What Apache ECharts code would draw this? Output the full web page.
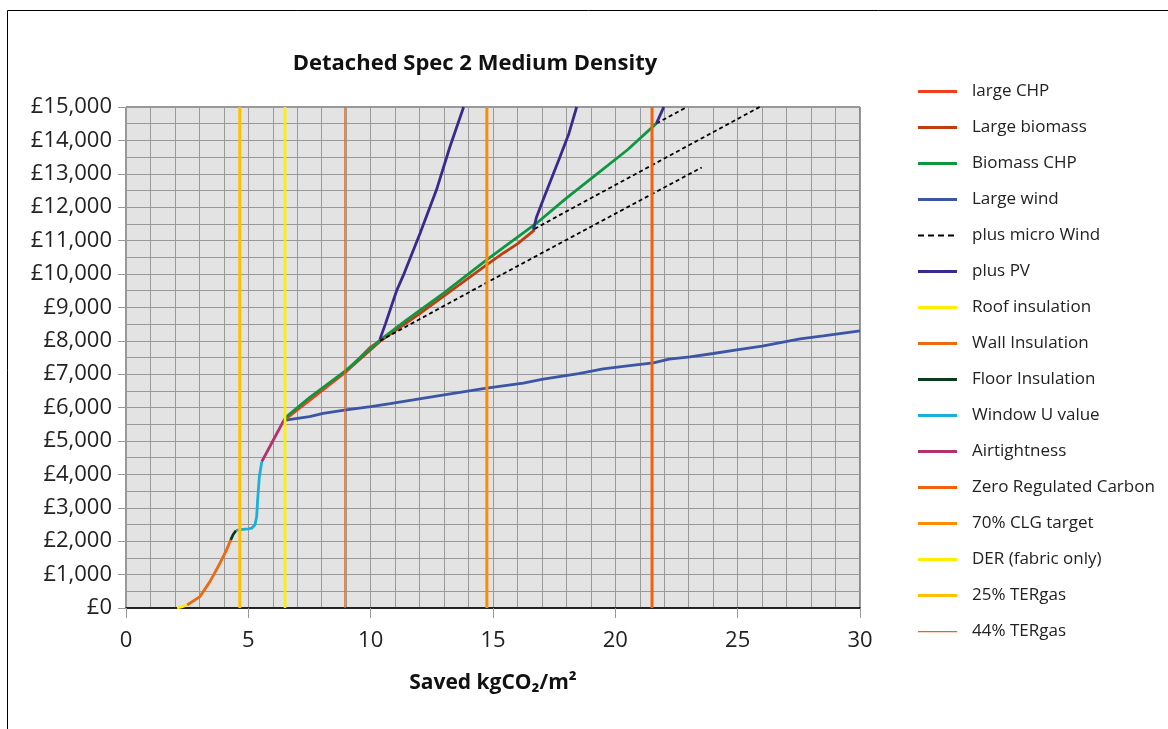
<!DOCTYPE html>
<html>
<head>
<meta charset="utf-8">
<script src="https://cdn.jsdelivr.net/npm/echarts@6/dist/echarts.min.js"></script>
<style>
html,body{margin:0;padding:0;background:#fff;}
#chart{width:1168px;height:729px;}
</style>
</head>
<body>
<div id="chart"></div>
<script>
// ---- data (x = saved kgCO2/m2, y = cost £) ----
const roofInsulation = [[2.09,0],[2.3,40],[2.5,90]];
const wallInsulation = [[2.5,90],[3.02,340],[3.43,790],[3.84,1340],[4.11,1740],[4.28,2040]];
const floorInsulation = [[4.28,2040],[4.38,2200],[4.5,2320]];
const windowUValue = [[4.5,2320],[4.6,2340],[5.0,2370],[5.14,2390],[5.27,2490],[5.34,2730],[5.38,3230],[5.45,3930],[5.55,4380]];
const airtightness = [[5.55,4380],[6.0,5000],[6.45,5620]];
const largeWind = [[6.45,5620],[7.5,5730],[8.06,5830],[9,5930],[10,6030],[10.8,6120],[11.74,6230],[13,6380],[14.74,6580],[16.24,6730],[17.05,6850],[18.5,7020],[19.5,7160],[20.5,7250],[21.55,7340],[22.2,7450],[23.05,7520],[24,7620],[24.96,7730],[26,7840],[27.55,8060],[28.5,8150],[30,8300]];
const largeBiomass = [[6.45,5620],[7.5,6250],[9.02,7100],[10.38,7980],[12.02,8820],[14.74,10270],[15.43,10630],[16.0,10900],[16.7,11320]];
const largeCHP = [[6.45,5620],[8,6500],[9.0,7080],[9.97,7800],[10.38,8000]];
const biomassCHP = [[6.45,5620],[6.6,5750],[7.5,6300],[9.02,7130],[10.38,8020],[11.5,8640],[12.97,9420],[14.74,10420],[16.78,11520],[18,12270],[19.1,12910],[20.5,13720],[21.68,14510]];
const microWindA = [[10.38,8000],[14.74,9740],[17.74,10920],[23.53,13190]];
const microWindB = [[16.7,11350],[17.74,11770],[21.5,13260],[25.9,15000]];
const microWindC = [[21.68,14510],[22.93,15000]];
const pvA = [[10.38,8050],[10.6,8500],[11.06,9500],[11.33,9950],[12.02,11220],[12.69,12520],[13.24,13810],[13.8,15000]];
const pvB = [[16.65,11320],[16.78,11710],[17.05,12220],[17.74,13510],[18.1,14200],[18.42,15000]];
const pvC = [[21.68,14510],[21.98,15000]];
// vertical targets (x positions)
const zeroRegulatedCarbonX = 21.5;
const clgTargetX = 14.75;
const derFabricX = 6.5;
const ter25X = 4.65;
const ter44X = 8.95;
// axes
const xMin = 0, xMax = 30, xStep = 5;
const yMin = 0, yMax = 15000, yStep = 1000;

const legendNames = ['large CHP','Large biomass','Biomass CHP','Large wind','plus micro Wind','plus PV','Roof insulation','Wall Insulation','Floor Insulation','Window U value','Airtightness','Zero Regulated Carbon','70% CLG target','DER (fabric only)','25% TERgas','44% TERgas'];

const FONT = '"Open Sans", "Noto Sans", sans-serif';
const solidIcon = 'path://M0,0h39v3h-39z M48.98,0h0.02v0.02h-0.02z';
const thinIcon = 'path://M0,0h0.02v0.02h-0.02z M0,1h39v1.2h-39z M48.98,2.98h0.02v0.02h-0.02z';
const dashIcon = 'path://M0,0h0.02v0.02h-0.02z M0,0.6h6v2h-6z M10,0.6h6v2h-6z M20,0.6h6v2h-6z M30,0.6h6v2h-6z M48.98,2.98h0.02v0.02h-0.02z';

function vline(x){ return [[x,yMin],[x,yMax]]; }
function line(name, data, color, width, extra){
  return Object.assign({
    type:'line', name:name, data:data, color:color, symbol:'none', silent:true,
    lineStyle:{color:color, width:width}, z:2, animation:false
  }, extra||{});
}
const dashed = {lineStyle:{color:'#000', width:1.8, type:[4,3]}};

const series = [
  line('Large wind', largeWind, '#3D55A5', 2.8),
  line('Large biomass', largeBiomass, '#BE3E10', 2.8),
  line('large CHP', largeCHP, '#F0401A', 2.8),
  line('Biomass CHP', biomassCHP, '#0E9640', 2.8),
  line('plus micro Wind', microWindA, '#000', 1.8, dashed),
  line('plus micro Wind', microWindB, '#000', 1.8, dashed),
  line('plus micro Wind', microWindC, '#000', 1.8, dashed),
  line('plus PV', pvA, '#3A2A8E', 2.8),
  line('plus PV', pvB, '#3A2A8E', 2.8),
  line('plus PV', pvC, '#3A2A8E', 2.8),
  line('Roof insulation', roofInsulation, '#FFEE00', 2.8),
  line('Wall Insulation', wallInsulation, '#EC6A12', 2.8),
  line('Floor Insulation', floorInsulation, '#0B3A1C', 2.8),
  line('Window U value', windowUValue, '#19B0DA', 2.8),
  line('Airtightness', airtightness, '#B3316C', 2.8),
  line('Zero Regulated Carbon', vline(zeroRegulatedCarbonX), '#F2620C', 3),
  line('70% CLG target', vline(clgTargetX), '#FF8C00', 3),
  line('DER (fabric only)', vline(derFabricX), '#FFEE00', 2.6),
  line('25% TERgas', vline(ter25X), '#FFC000', 3),
  line('44% TERgas', vline(ter44X), '#F0640F', 1.4)
];

const legendData = legendNames.map(n => ({
  name:n,
  icon: n === 'plus micro Wind' ? dashIcon : (n === '44% TERgas' ? thinIcon : solidIcon)
}));

const option = {
  backgroundColor:'#fff',
  animation:false,
  textStyle:{fontFamily:FONT},
  title:{
    text:'Detached Spec 2 Medium Density',
    left:470, top:48, textAlign:'center',
    textStyle:{fontFamily:FONT, fontWeight:'bold', fontSize:22, color:'#111'}
  },
  graphic:[{type:'rect', shape:{x:7.5,y:10.5,width:1200,height:800}, style:{fill:'none', stroke:'#000', lineWidth:1}, silent:true}],
  legend:{
    orient:'vertical', left:918, top:83, padding:0,
    itemGap:19, itemWidth:49, itemHeight:3,
    textStyle:{fontFamily:FONT, fontSize:17, color:'#222', lineHeight:16},
    data:legendData, selectedMode:false
  },
  grid:{
    left:126, right:308, top:107, bottom:121,
    show:true, backgroundColor:'#E3E3E3', borderColor:'#333', borderWidth:1
  },
  xAxis:{
    type:'value', min:xMin, max:xMax, interval:xStep,
    name:'Saved kgCO₂/m²', nameLocation:'middle', nameGap:65,
    nameTextStyle:{fontFamily:FONT, fontWeight:'bold', fontSize:21, color:'#111'},
    axisLine:{show:true, onZero:false, lineStyle:{color:'#000', width:1.5}},
    axisTick:{show:true, length:10, lineStyle:{color:'#999'}},
    axisLabel:{fontFamily:FONT, fontSize:22, color:'#222', margin:22},
    splitLine:{show:true, lineStyle:{color:'#999', width:1}},
    minorTick:{show:false, splitNumber:5},
    minorSplitLine:{show:true, lineStyle:{color:'#999', width:1}}
  },
  yAxis:{
    type:'value', min:yMin, max:yMax, interval:yStep,
    axisLine:{show:false},
    axisTick:{show:true, length:8, lineStyle:{color:'#999'}},
    axisLabel:{fontFamily:FONT, fontSize:22, color:'#222', margin:14,
      formatter: v => '£' + v.toLocaleString('en-GB')},
    splitLine:{show:true, lineStyle:{color:'#999', width:1}},
    minorTick:{show:false, splitNumber:2},
    minorSplitLine:{show:true, lineStyle:{color:'#999', width:1}}
  },
  series:series
};

const chart = echarts.init(document.getElementById('chart'), null, {renderer:'canvas'});
chart.setOption(option);
</script>
</body>
</html>
